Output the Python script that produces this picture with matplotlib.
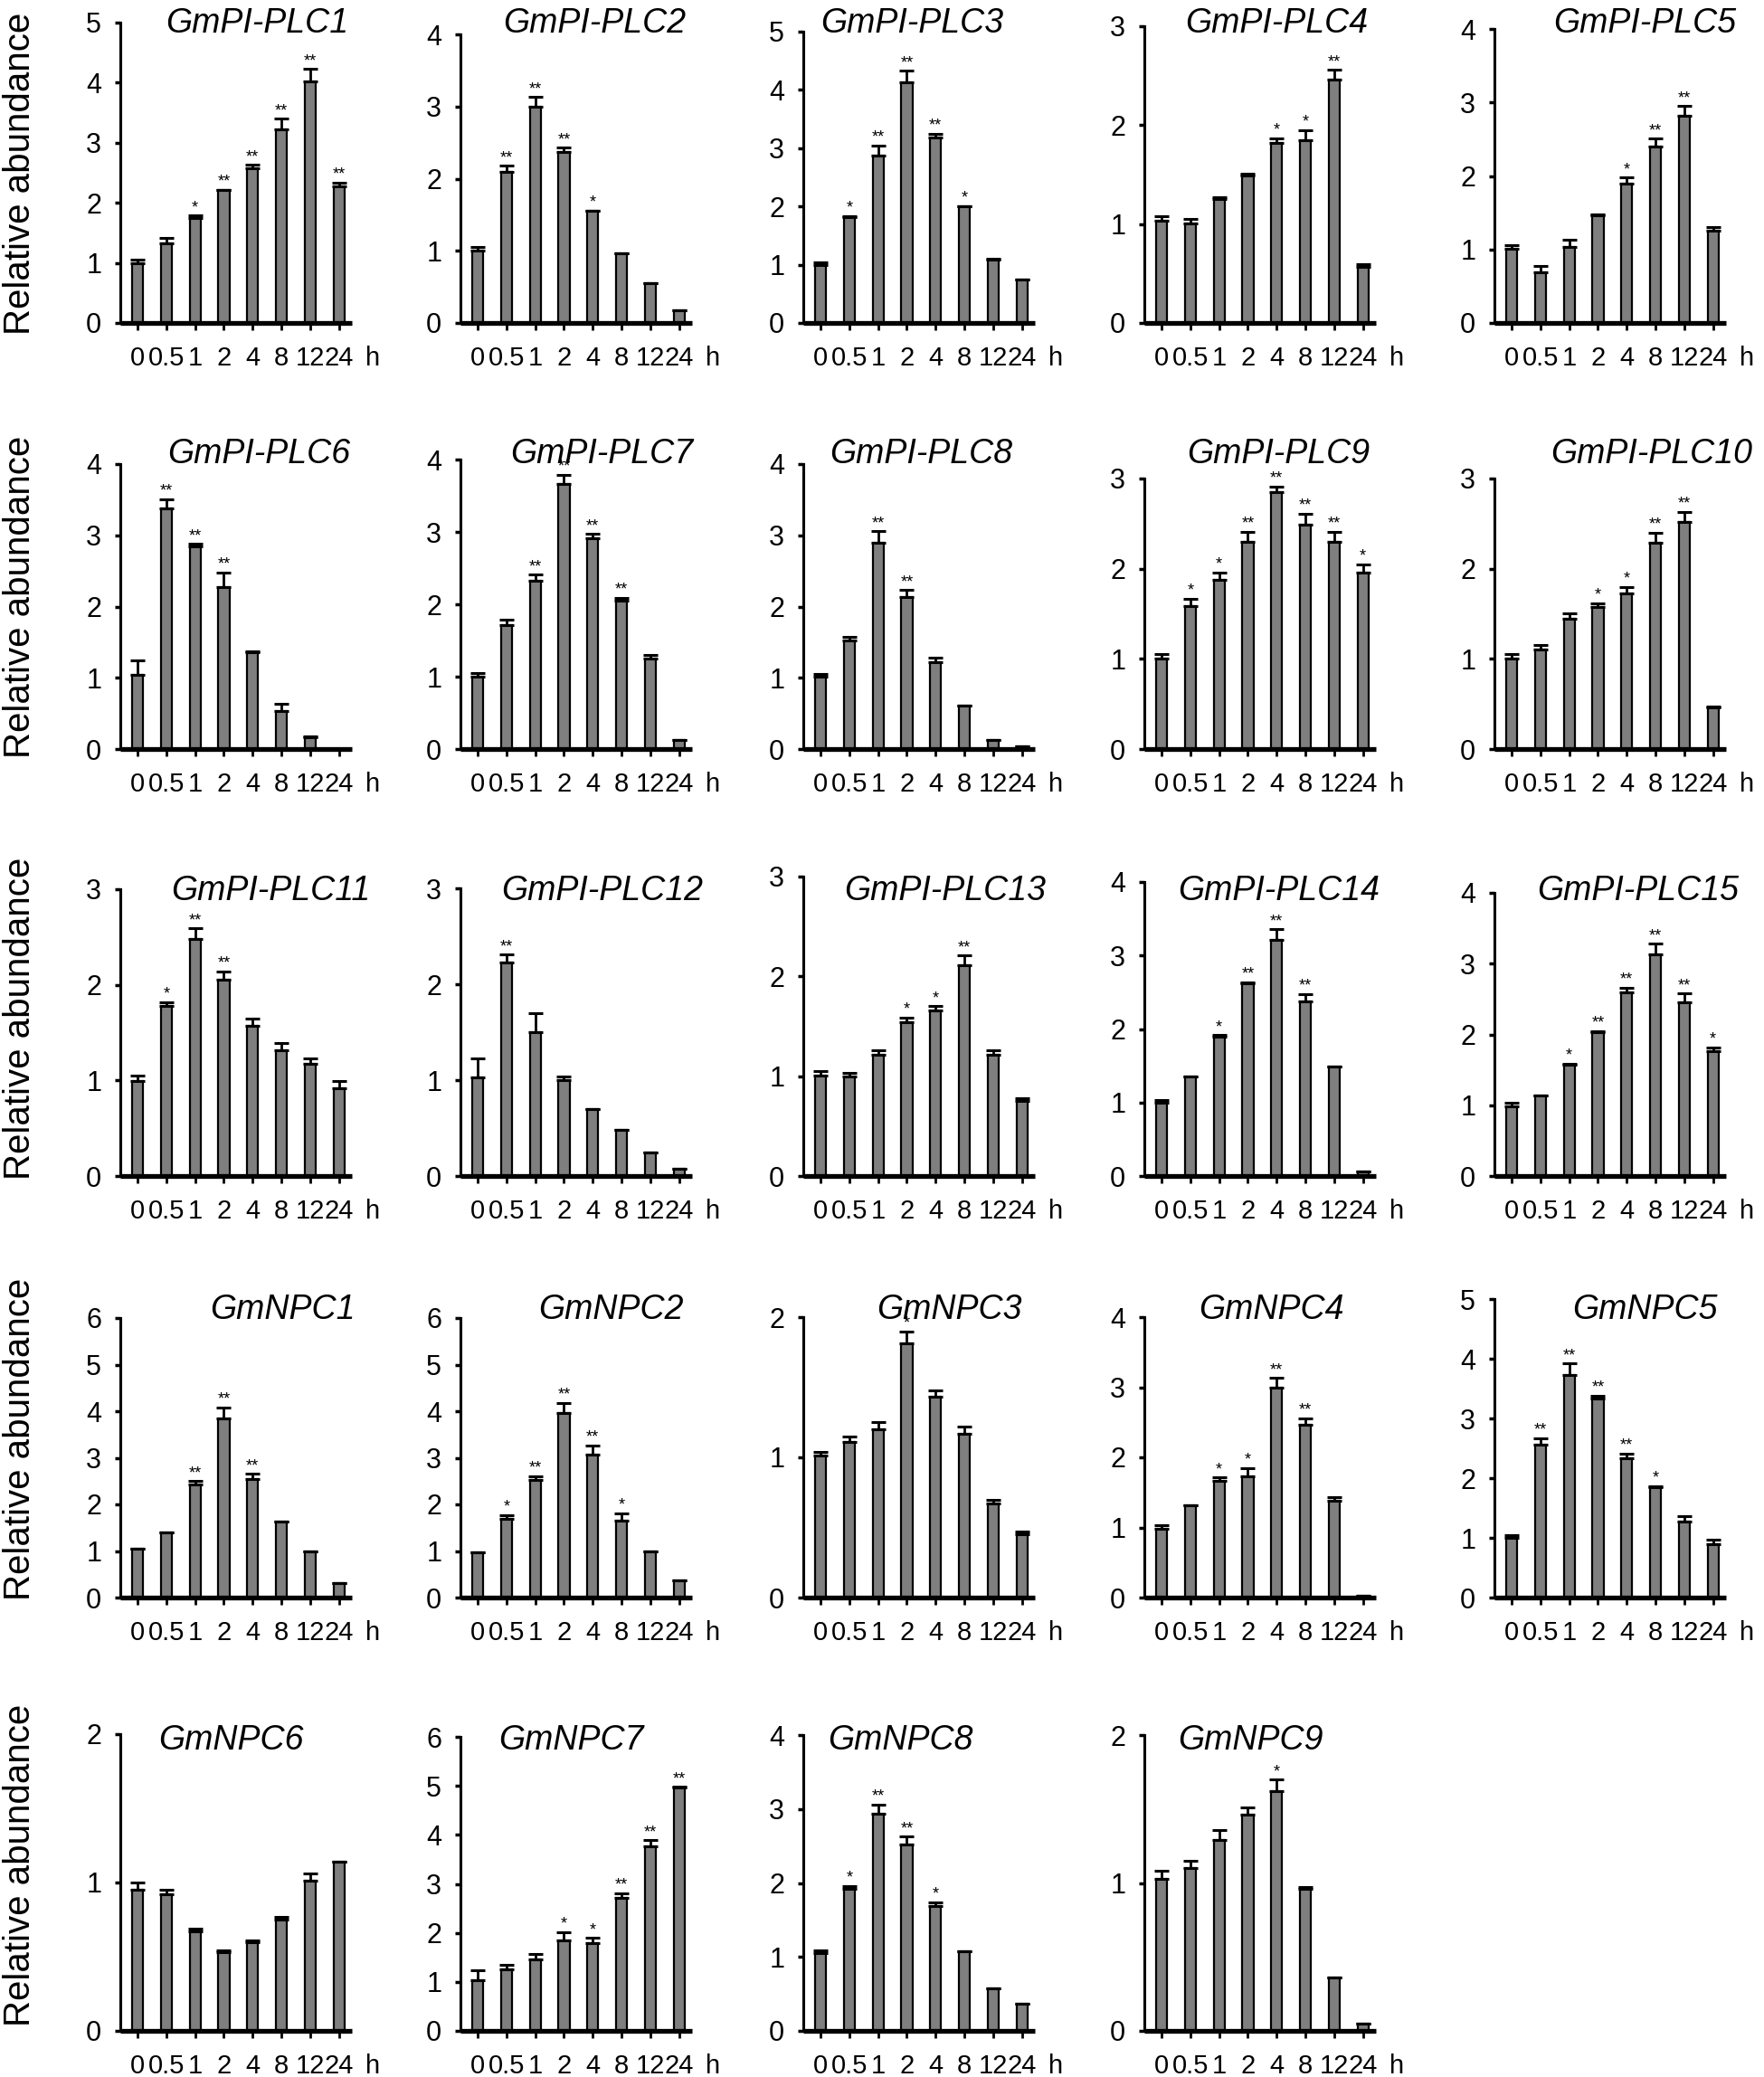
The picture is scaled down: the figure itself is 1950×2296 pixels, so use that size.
import numpy as np
import matplotlib
matplotlib.use('Agg')
from matplotlib import pyplot as plt

plt.rcParams['font.family'] = ['Liberation Sans', 'DejaVu Sans']

times = ['0', '0.5', '1', '2', '4', '8', '12', '24']

genes = ['GmPI-PLC1', 'GmPI-PLC2', 'GmPI-PLC3', 'GmPI-PLC4', 'GmPI-PLC5',
         'GmPI-PLC6', 'GmPI-PLC7', 'GmPI-PLC8', 'GmPI-PLC9', 'GmPI-PLC10',
         'GmPI-PLC11', 'GmPI-PLC12', 'GmPI-PLC13', 'GmPI-PLC14', 'GmPI-PLC15',
         'GmNPC1', 'GmNPC2', 'GmNPC3', 'GmNPC4', 'GmNPC5',
         'GmNPC6', 'GmNPC7', 'GmNPC8', 'GmNPC9']

y_tops = [5, 4, 5, 3, 4,
          4, 4, 4, 3, 3,
          3, 3, 3, 4, 4,
          6, 6, 2, 4, 5,
          2, 6, 4, 2]

means = [
    [1.0, 1.33, 1.74, 2.21, 2.58, 3.23, 4.02, 2.28],
    [1.0, 2.09, 3.0, 2.37, 1.55, 0.97, 0.55, 0.17],
    [1.0, 1.81, 2.88, 4.13, 3.18, 2.0, 1.09, 0.74],
    [1.03, 1.01, 1.25, 1.49, 1.82, 1.85, 2.46, 0.57],
    [1.01, 0.69, 1.03, 1.47, 1.89, 2.4, 2.82, 1.25],
    [1.04, 3.38, 2.85, 2.27, 1.36, 0.53, 0.17, 0.0],
    [1.0, 1.71, 2.33, 3.66, 2.91, 2.05, 1.25, 0.13],
    [1.01, 1.52, 2.89, 2.13, 1.22, 0.61, 0.13, 0.04],
    [1.0, 1.59, 1.88, 2.3, 2.85, 2.49, 2.3, 1.96],
    [1.0, 1.1, 1.44, 1.58, 1.73, 2.29, 2.52, 0.46],
    [0.99, 1.78, 2.48, 2.05, 1.57, 1.32, 1.17, 0.92],
    [1.03, 2.23, 1.5, 1.0, 0.7, 0.48, 0.25, 0.08],
    [1.01, 1.0, 1.21, 1.54, 1.66, 2.11, 1.21, 0.75],
    [1.0, 1.36, 1.9, 2.62, 3.21, 2.38, 1.49, 0.06],
    [0.99, 1.14, 1.57, 2.03, 2.6, 3.13, 2.45, 1.76],
    [1.05, 1.39, 2.42, 3.84, 2.55, 1.63, 0.99, 0.31],
    [0.97, 1.69, 2.53, 3.97, 3.06, 1.66, 1.0, 0.37],
    [1.01, 1.11, 1.2, 1.81, 1.43, 1.17, 0.67, 0.45],
    [0.98, 1.31, 1.66, 1.73, 3.0, 2.47, 1.38, 0.02],
    [1.0, 2.56, 3.73, 3.33, 2.33, 1.85, 1.27, 0.9],
    [0.95, 0.92, 0.67, 0.53, 0.6, 0.75, 1.01, 1.14],
    [1.04, 1.25, 1.46, 1.85, 1.8, 2.71, 3.76, 4.96],
    [1.05, 1.92, 2.93, 2.52, 1.69, 1.08, 0.57, 0.37],
    [1.03, 1.1, 1.29, 1.46, 1.62, 0.96, 0.36, 0.05],
]

errs = [
    [0.05, 0.09, 0.05, 0.01, 0.05, 0.17, 0.21, 0.06],
    [0.05, 0.09, 0.13, 0.06, 0.01, 0.0, 0.0, 0.0],
    [0.04, 0.03, 0.17, 0.2, 0.07, 0.01, 0.01, 0.01],
    [0.05, 0.04, 0.02, 0.02, 0.05, 0.1, 0.1, 0.02],
    [0.05, 0.08, 0.1, 0.01, 0.09, 0.11, 0.13, 0.05],
    [0.2, 0.13, 0.03, 0.21, 0.01, 0.11, 0.01, 0.0],
    [0.05, 0.08, 0.08, 0.13, 0.06, 0.04, 0.05, 0.0],
    [0.05, 0.06, 0.17, 0.1, 0.06, 0.0, 0.0, 0.0],
    [0.05, 0.08, 0.08, 0.11, 0.06, 0.12, 0.11, 0.09],
    [0.05, 0.05, 0.07, 0.04, 0.07, 0.11, 0.11, 0.01],
    [0.06, 0.04, 0.11, 0.09, 0.08, 0.07, 0.06, 0.07],
    [0.2, 0.08, 0.2, 0.04, 0.0, 0.0, 0.0, 0.0],
    [0.04, 0.03, 0.05, 0.05, 0.04, 0.1, 0.05, 0.03],
    [0.04, 0.0, 0.02, 0.02, 0.15, 0.1, 0.0, 0.0],
    [0.04, 0.0, 0.02, 0.02, 0.06, 0.15, 0.13, 0.06],
    [0.0, 0.0, 0.08, 0.24, 0.11, 0.0, 0.0, 0.0],
    [0.0, 0.08, 0.08, 0.21, 0.21, 0.15, 0.0, 0.0],
    [0.03, 0.04, 0.05, 0.09, 0.05, 0.05, 0.03, 0.02],
    [0.05, 0.0, 0.05, 0.12, 0.13, 0.09, 0.05, 0.0],
    [0.05, 0.11, 0.19, 0.05, 0.08, 0.02, 0.09, 0.07],
    [0.05, 0.03, 0.02, 0.01, 0.01, 0.02, 0.05, 0.0],
    [0.2, 0.1, 0.11, 0.17, 0.1, 0.1, 0.13, 0.02],
    [0.04, 0.04, 0.13, 0.11, 0.05, 0.0, 0.0, 0.0],
    [0.05, 0.05, 0.07, 0.05, 0.08, 0.01, 0.0, 0.0],
]

stars = [
    ['', '', '*', '**', '**', '**', '**', '**'],
    ['', '**', '**', '**', '*', '', '', ''],
    ['', '*', '**', '**', '**', '*', '', ''],
    ['', '', '', '', '*', '*', '**', ''],
    ['', '', '', '', '*', '**', '**', ''],
    ['', '**', '**', '**', '', '', '', ''],
    ['', '', '**', '**', '**', '**', '', ''],
    ['', '', '**', '**', '', '', '', ''],
    ['', '*', '*', '**', '**', '**', '**', '*'],
    ['', '', '', '*', '*', '**', '**', ''],
    ['', '*', '**', '**', '', '', '', ''],
    ['', '**', '', '', '', '', '', ''],
    ['', '', '', '*', '*', '**', '', ''],
    ['', '', '*', '**', '**', '**', '', ''],
    ['', '', '*', '**', '**', '**', '**', '*'],
    ['', '', '**', '**', '**', '', '', ''],
    ['', '*', '**', '**', '**', '*', '', ''],
    ['', '', '', '*', '', '', '', ''],
    ['', '', '*', '*', '**', '**', '', ''],
    ['', '**', '**', '**', '**', '*', '', ''],
    ['', '', '', '', '', '', '', ''],
    ['', '', '', '*', '*', '**', '**', '**'],
    ['', '*', '**', '**', '*', '', '', ''],
    ['', '', '', '', '*', '', '', ''],
]

# layout in pixels of the 1950x2296 canvas
W, H = 1950, 2296
col_left = [133, 509, 888, 1265, 1652]
row_zero = [357, 828, 1300, 1766, 2245]
title_y = [26, 502, 985, 1448, 1924]
axis_top = [25, 38, 35, 29, 32,
            513, 508, 513, 529, 529,
            983, 982, 969, 975, 987,
            1457, 1457, 1456, 1456, 1436,
            1917, 1920, 1918, 1918]
title_x = [0.59, 0.58, 0.47, 0.57, 0.65,
           0.60, 0.61, 0.51, 0.58, 0.68,
           0.65, 0.61, 0.61, 0.58, 0.62,
           0.70, 0.65, 0.63, 0.55, 0.65,
           0.48, 0.48, 0.42, 0.46]
label_y = [192, 660, 1126, 1591, 2062]
axis_w = 256

fig = plt.figure(figsize=(W / 100, H / 100), dpi=100)

x = np.arange(len(times))
for i, gene in enumerate(genes):
    row, col = divmod(i, 5)
    top = axis_top[i]
    zero = row_zero[row]
    ax = fig.add_axes([col_left[col] / W, 1 - zero / H, axis_w / W, (zero - top) / H])
    m = np.array(means[i])
    e = np.array(errs[i])
    ax.bar(x, m, width=0.38, color='#7f7f7f', edgecolor='black', linewidth=1.6, zorder=2)
    ax.errorbar(x, m, yerr=[np.zeros_like(e), e], fmt='none', ecolor='black',
                elinewidth=2, capsize=6, capthick=2.2, zorder=3)
    for xi, (mi, ei, s) in enumerate(zip(m, e, stars[i])):
        if s:
            ax.annotate(s, xy=(xi, mi + ei), xytext=(0, 0), textcoords='offset points',
                        ha='center', va='bottom', fontsize=13)

    ax.set_xlim(-0.6, 7.45)
    ax.set_ylim(0, y_tops[i])
    ax.set_yticks(range(0, y_tops[i] + 1))
    ax.set_xticks(x)
    ax.set_xticklabels(times)
    for sp in ['top', 'right']:
        ax.spines[sp].set_visible(False)
    ax.spines['left'].set_linewidth(2.2)
    ax.spines['bottom'].set_linewidth(3.8)
    ax.spines['bottom'].set_capstyle('butt')
    ax.tick_params(axis='y', direction='out', length=4, width=2.5, pad=11, labelsize=22)
    ax.tick_params(axis='x', direction='out', length=6, width=2, pad=12, labelsize=21)
    ax.patch.set_visible(False)
    ax.annotate('h', xy=(7, 0), xycoords='data', xytext=(27, -18),
                textcoords='offset points', ha='center', va='top', fontsize=21)
    # gene name sits at a fixed height per row, as in the figure
    fig.text((col_left[col] + title_x[i] * axis_w) / W, 1 - title_y[row] / H, gene,
             ha='center', va='center', fontsize=27, style='italic')

for ly in label_y:
    fig.text(22 / W, 1 - ly / H, 'Relative abundance', rotation=90,
             ha='center', va='center', fontsize=29)

plt.savefig('out.png', dpi=100)
